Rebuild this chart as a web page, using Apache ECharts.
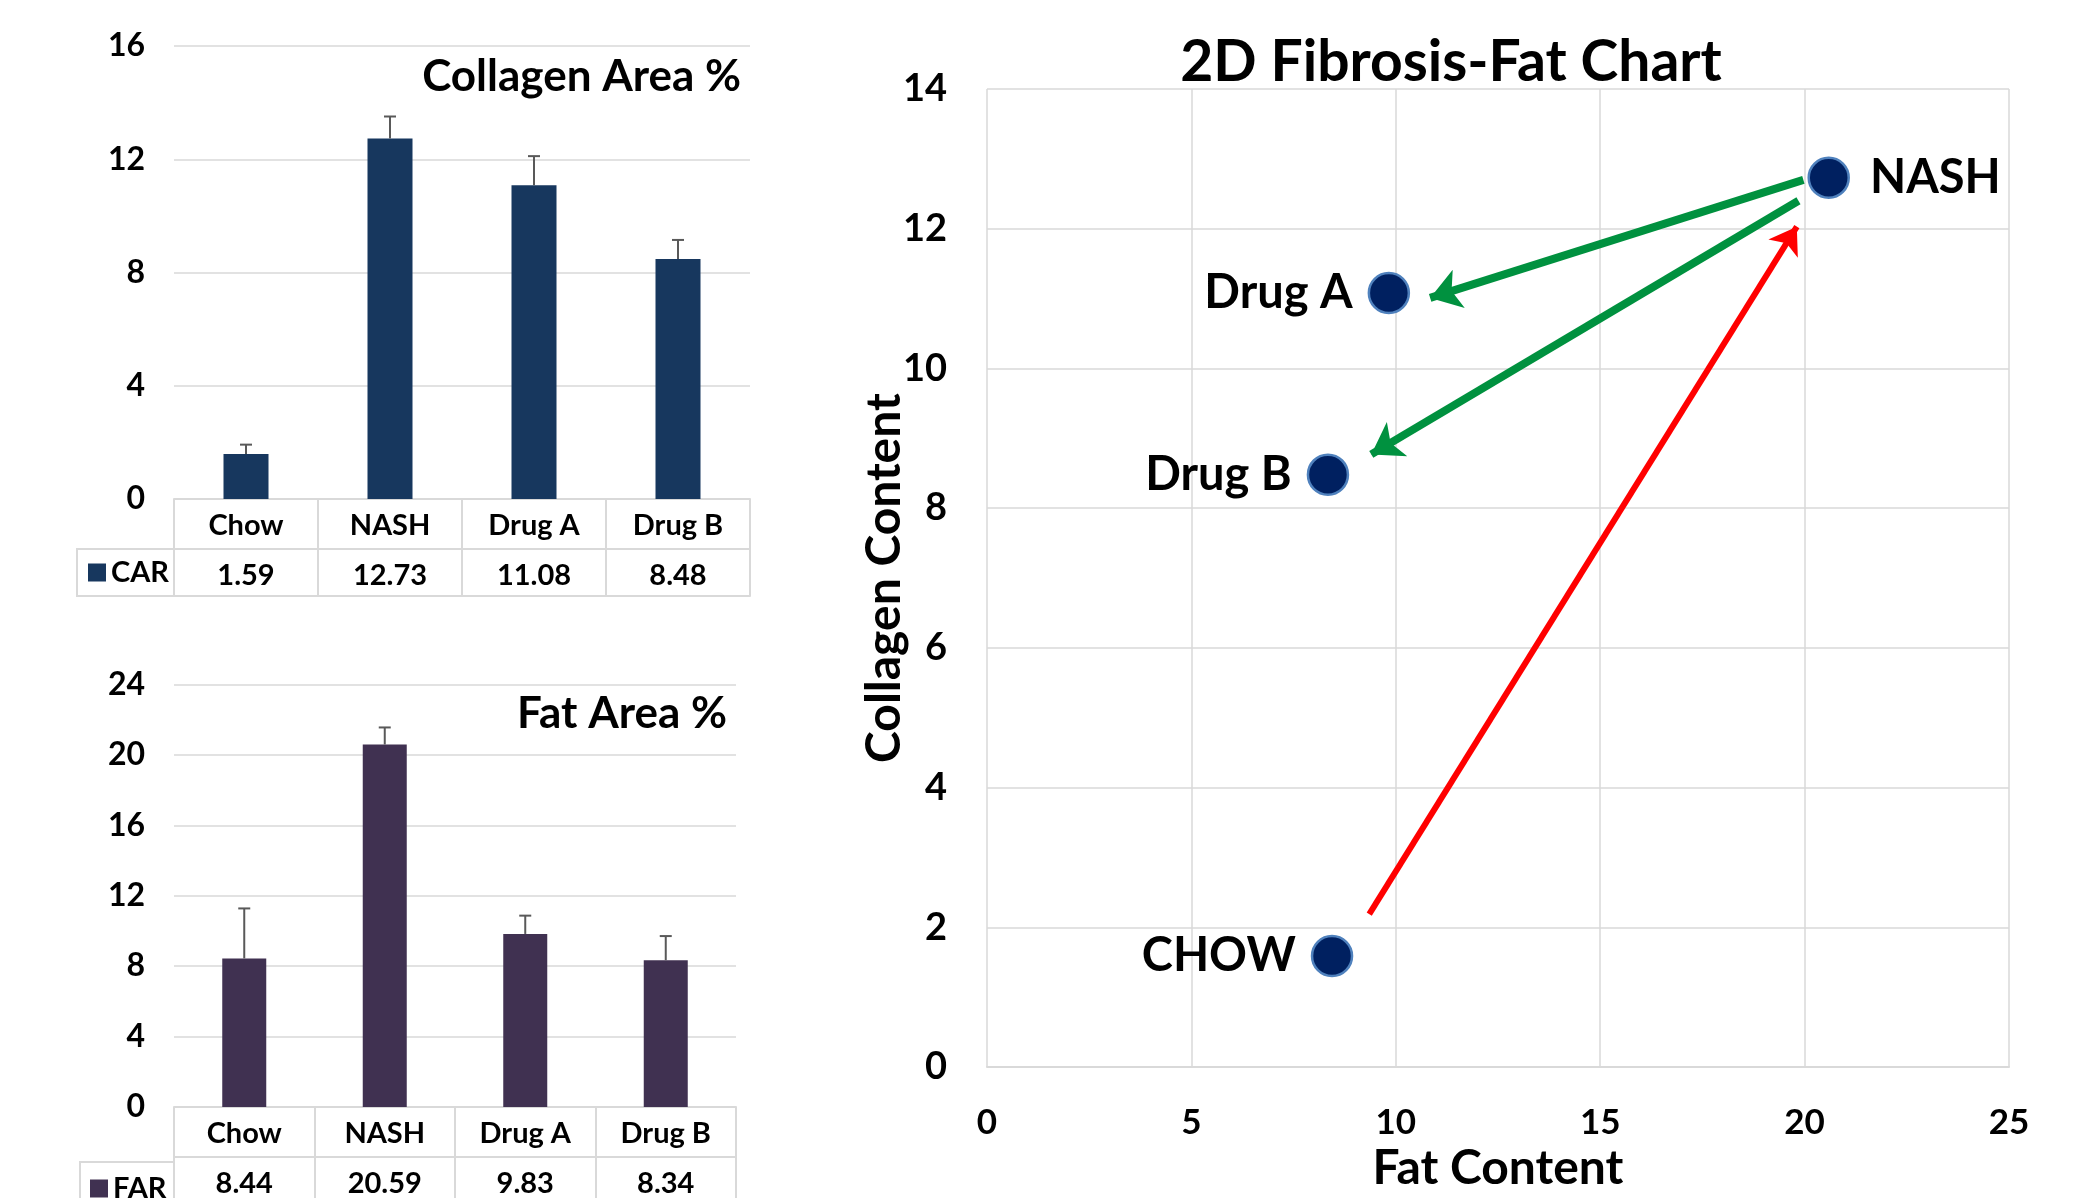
<!DOCTYPE html>
<html>
<head>
<meta charset="utf-8">
<script src="https://cdn.jsdelivr.net/npm/echarts@6/dist/echarts.min.js"></script>
<style>
html,body{margin:0;padding:0;background:#fff;}
#c{width:2082px;height:1198px;}
</style>
</head>
<body>
<div id="c"></div>
<script>
const categories = ['Chow', 'NASH', 'Drug A', 'Drug B'];
const carValues = [1.59, 12.73, 11.08, 8.48];
const carErrors = [0.33, 0.78, 1.03, 0.67];
const farValues = [8.44, 20.59, 9.83, 8.34];
const farErrors = [2.84, 0.97, 1.04, 1.37];
const pointLabels = ['CHOW', 'NASH', 'Drug A', 'Drug B'];
const labelSides = ['left', 'right', 'left', 'left'];
const carTicks = [0, 4, 8, 12, 16];
const farTicks = [0, 4, 8, 12, 16, 20, 24];
// arrows in data units: [fromFat, fromCollagen, toFat, toCollagen]
const greenArrows = [[19.97, 12.70, 10.84, 11.01], [19.85, 12.40, 9.40, 8.77]];
const redArrows = [[9.35, 2.19, 19.81, 12.03]];

const FONT = 'Lato';
const GRAY = '#d9d9d9';
const txt = (size) => ({ fontFamily: FONT, fontWeight: 'bold', fontSize: size, color: '#000' });

function tableAxes(gridIndex, valuesArr) {
  return [
    { type: 'category', gridIndex, data: categories, position: 'bottom',
      axisLine: { show: true, lineStyle: { color: GRAY, width: 2 } },
      axisTick: { show: true, interval: 0, length: 97, lineStyle: { color: GRAY, width: 2 } },
      axisLabel: Object.assign({ margin: 12, interval: 0 }, txt(29)) },
    { type: 'category', gridIndex, data: valuesArr.map(v => v.toFixed(2)), position: 'bottom', offset: 50,
      axisLine: { show: true, lineStyle: { color: GRAY, width: 2 } },
      axisTick: { show: false },
      axisLabel: Object.assign({ margin: 12, interval: 0 }, txt(29)) },
    { type: 'category', gridIndex, data: categories, position: 'bottom', offset: 97,
      axisLine: { show: true, lineStyle: { color: GRAY, width: 2 } },
      axisTick: { show: false }, axisLabel: { show: false } }
  ];
}

function errRender(color) {
  return function (params, api) {
    const x = api.value(0), v = api.value(1), e = api.value(2);
    const p0 = api.coord([x, v]);
    const p1 = api.coord([x, v + e]);
    return { type: 'group', children: [
      { type: 'line', shape: { x1: p0[0], y1: p0[1], x2: p1[0], y2: p1[1] }, style: { stroke: color, lineWidth: 2 } },
      { type: 'line', shape: { x1: p1[0] - 6, y1: p1[1], x2: p1[0] + 6, y2: p1[1] }, style: { stroke: color, lineWidth: 2 } }
    ]};
  };
}

const chart = echarts.init(document.getElementById('c'), null, { renderer: 'canvas' });
const option = {
  animation: false,
  backgroundColor: '#fff',
  grid: [
    { left: 174, top: 46, width: 576, height: 453 },
    { left: 174, top: 684.5, width: 562, height: 428 },
    { left: 987, top: 89, width: 1022, height: 981 }
  ],
  legend: [
    { data: ['CAR'], left: 88, top: 558, icon: 'rect', itemWidth: 18, itemHeight: 18, itemGap: 7, padding: 0,
      selectedMode: false, textStyle: txt(29) },
    { data: ['FAR'], left: 90, top: 1174, icon: 'rect', itemWidth: 18, itemHeight: 18, itemGap: 7, padding: 0,
      selectedMode: false, textStyle: txt(29) }
  ],
  xAxis: [
    ...tableAxes(0, carValues),
    ...tableAxes(1, farValues),
    { type: 'value', gridIndex: 2, min: 0, max: 25, interval: 5,
      axisLine: { show: true, lineStyle: { color: GRAY, width: 2 } },
      axisTick: { show: false },
      splitLine: { show: true, lineStyle: { color: GRAY, width: 1.5 } },
      axisLabel: Object.assign({ margin: 38 }, txt(35)),
      name: 'Fat Content', nameLocation: 'middle', nameGap: 65,
      nameTextStyle: txt(48) }
  ],
  yAxis: [
    { type: 'value', gridIndex: 0, min: 0, max: 16, interval: 4,
      axisLine: { show: false }, axisTick: { show: false },
      splitLine: { lineStyle: { color: GRAY, width: 1.5 } },
      axisLabel: Object.assign({ margin: 29 }, txt(32)) },
    { type: 'value', gridIndex: 1, min: 0, max: 24, interval: 4,
      axisLine: { show: false }, axisTick: { show: false },
      splitLine: { lineStyle: { color: GRAY, width: 1.5 } },
      axisLabel: Object.assign({ margin: 29 }, txt(32)) },
    { type: 'value', gridIndex: 2, min: 0, max: 14, interval: 2,
      axisLine: { show: false }, axisTick: { show: false },
      splitLine: { lineStyle: { color: GRAY, width: 1.5 } },
      axisLabel: Object.assign({ margin: 40 }, txt(38)),
      name: 'Collagen Content', nameLocation: 'middle', nameGap: 78, nameRotate: 90,
      nameMoveOverlap: false,
      nameTextStyle: txt(48) }
  ],
  graphic: [
    { type: 'rect', shape: { x: 77, y: 549, width: 97, height: 47 }, style: { fill: 'none', stroke: GRAY, lineWidth: 2 } },
    { type: 'rect', shape: { x: 80, y: 1162, width: 94, height: 60 }, style: { fill: 'none', stroke: GRAY, lineWidth: 2 } },
    { type: 'text', x: 741, y: 77, style: { text: 'Collagen Area %', font: 'bold 44px Lato', fill: '#000', textAlign: 'right', textVerticalAlign: 'middle', align: 'right', verticalAlign: 'middle' } },
    { type: 'text', x: 727, y: 714, style: { text: 'Fat Area %', font: 'bold 44px Lato', fill: '#000', textAlign: 'right', textVerticalAlign: 'middle', align: 'right', verticalAlign: 'middle' } },
    { type: 'text', x: 1451, y: 63, style: { text: '2D Fibrosis-Fat Chart', font: 'bold 57px Lato', fill: '#000', textAlign: 'center', textVerticalAlign: 'middle', align: 'center', verticalAlign: 'middle' } }
  ],
  series: [
    { name: 'CAR', type: 'bar', xAxisIndex: 0, yAxisIndex: 0, data: carValues, barWidth: 45,
      itemStyle: { color: '#17375E' } },
    { name: 'carErr', type: 'custom', xAxisIndex: 0, yAxisIndex: 0, renderItem: errRender('#595959'),
      data: carValues.map((v, i) => [i, v, carErrors[i]]), encode: { x: 0, y: 1 }, z: 3 },
    { name: 'FAR', type: 'bar', xAxisIndex: 3, yAxisIndex: 1, data: farValues, barWidth: 44,
      itemStyle: { color: '#403151' } },
    { name: 'farErr', type: 'custom', xAxisIndex: 3, yAxisIndex: 1, renderItem: errRender('#595959'),
      data: farValues.map((v, i) => [i, v, farErrors[i]]), encode: { x: 0, y: 1 }, z: 3 },
    { name: 'arrowsGreen', type: 'lines', coordinateSystem: 'cartesian2d', xAxisIndex: 6, yAxisIndex: 2,
      symbol: ['none', 'arrow'], symbolSize: 30, z: 2,
      lineStyle: { color: '#00913F', width: 8, opacity: 1 },
      data: greenArrows.map(a => ({ coords: [[a[0], a[1]], [a[2], a[3]]] })) },
    { name: 'arrowsRed', type: 'lines', coordinateSystem: 'cartesian2d', xAxisIndex: 6, yAxisIndex: 2,
      symbol: ['none', 'arrow'], symbolSize: 26, z: 2,
      lineStyle: { color: '#FF0000', width: 6, opacity: 1 },
      data: redArrows.map(a => ({ coords: [[a[0], a[1]], [a[2], a[3]]] })) },
    { name: 'groups', type: 'scatter', xAxisIndex: 6, yAxisIndex: 2, symbolSize: 40, z: 5,
      itemStyle: { color: '#002060', borderColor: '#4F81BD', borderWidth: 2.5, opacity: 1 },
      data: farValues.map((f, i) => ({
        value: [f, carValues[i]],
        label: { show: true, position: labelSides[i], distance: labelSides[i] === 'right' ? 20 : 15,
          formatter: pointLabels[i], fontFamily: FONT, fontWeight: 'bold', fontSize: 47, color: '#000' }
      })) }
  ]
};
chart.setOption(option);
</script>
</body>
</html>
